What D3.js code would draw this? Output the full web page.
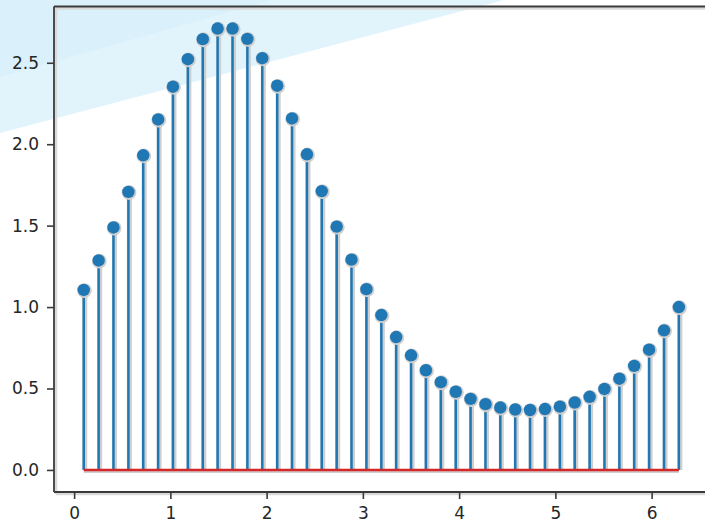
<!DOCTYPE html>
<html>
<head>
<meta charset="utf-8">
<script src="https://cdn.jsdelivr.net/npm/d3@7"></script>
<style>
  html, body { margin: 0; padding: 0; background: #fff; overflow: hidden; }
  svg { display: block; }
</style>
</head>
<body>
<div id="plot"></div>
<script>
// chart size
var width = 705;
var height = 524;

// data
var xValues = [0.100, 0.255, 0.409, 0.564, 0.718, 0.873, 1.027, 1.182, 1.337, 1.491,
               1.646, 1.800, 1.955, 2.110, 2.264, 2.419, 2.573, 2.728, 2.882, 3.037,
               3.192, 3.346, 3.501, 3.655, 3.810, 3.965, 4.119, 4.274, 4.428, 4.583,
               4.737, 4.892, 5.047, 5.201, 5.356, 5.510, 5.665, 5.819, 5.974, 6.129,
               6.283];
var yValues = [1.105, 1.286, 1.489, 1.707, 1.932, 2.152, 2.353, 2.522, 2.645, 2.710,
               2.710, 2.647, 2.528, 2.359, 2.158, 1.938, 1.712, 1.494, 1.291, 1.110,
               0.951, 0.816, 0.704, 0.612, 0.539, 0.480, 0.436, 0.404, 0.383, 0.371,
               0.368, 0.374, 0.389, 0.414, 0.449, 0.497, 0.560, 0.639, 0.738, 0.857,
               1.000];
var xTicks = [0, 1, 2, 3, 4, 5, 6];
var yTicks = [0.0, 0.5, 1.0, 1.5, 2.0, 2.5];

var points = xValues.map(function(d, i) { return {x: d, y: yValues[i]}; });

// axes box (right edge falls just outside the window)
var box = {left: 54, right: 708.6, top: 6.5, bottom: 492};

var xScale = d3.scaleLinear().domain([-0.209, 6.592]).range([box.left, box.right]);
var yScale = d3.scaleLinear().domain([-0.1355, 2.8455]).range([box.bottom, box.top]);

var shadow = "#cfcfcf";
var blue = "#1f77b4";
var red = "#d62728";
var dx = 2, dy = 2;

var svg = d3.select("#plot")
            .append("svg")
            .attr("width", width)
            .attr("height", height)
            .style("font-family", "DejaVu Sans, sans-serif");

// light blue wedges in the top left corner
svg.append("polygon")
   .attr("points", "0,0 504,0 0,133")
   .attr("fill", "#e1f4fc");
svg.append("polygon")
   .attr("points", "0,0 272,0 0,77")
   .attr("fill", "#daf1fb");

// stems: shadow then line
var stems = svg.append("g");
stems.selectAll("line.sh")
   .data(points)
   .enter()
   .append("line")
   .attr("class", "sh")
   .attr("x1", function(d) { return xScale(d.x) + 1; })
   .attr("x2", function(d) { return xScale(d.x) + 1; })
   .attr("y1", yScale(0))
   .attr("y2", function(d) { return yScale(d.y); })
   .attr("stroke", shadow)
   .attr("stroke-width", 5);
stems.selectAll("line.st")
   .data(points)
   .enter()
   .append("line")
   .attr("class", "st")
   .attr("x1", function(d) { return xScale(d.x); })
   .attr("x2", function(d) { return xScale(d.x); })
   .attr("y1", yScale(0))
   .attr("y2", function(d) { return yScale(d.y); })
   .attr("stroke", blue)
   .attr("stroke-width", 2.5);

// baseline
svg.append("line")
   .attr("x1", xScale(xValues[0]))
   .attr("x2", xScale(xValues[xValues.length - 1]))
   .attr("y1", yScale(0) + 1)
   .attr("y2", yScale(0) + 1)
   .attr("stroke", shadow)
   .attr("stroke-width", 4);
svg.append("line")
   .attr("x1", xScale(xValues[0]))
   .attr("x2", xScale(xValues[xValues.length - 1]))
   .attr("y1", yScale(0))
   .attr("y2", yScale(0))
   .attr("stroke", red)
   .attr("stroke-width", 2.5);

// markers
svg.selectAll("circle.sh")
   .data(points)
   .enter()
   .append("circle")
   .attr("class", "sh")
   .attr("cx", function(d) { return xScale(d.x) + 0.6; })
   .attr("cy", function(d) { return yScale(d.y) + 0.6; })
   .attr("r", 7.4)
   .attr("fill", shadow);
svg.selectAll("circle.mk")
   .data(points)
   .enter()
   .append("circle")
   .attr("class", "mk")
   .attr("cx", function(d) { return xScale(d.x); })
   .attr("cy", function(d) { return yScale(d.y); })
   .attr("r", 6.2)
   .attr("fill", blue);

// spines with shadow
function spine(x1, y1, x2, y2) {
  svg.append("line")
     .attr("x1", x1 + dx).attr("y1", y1 + dy)
     .attr("x2", x2 + dx).attr("y2", y2 + dy)
     .attr("stroke", "#d9d9d9")
     .attr("stroke-width", 2.5);
  svg.append("line")
     .attr("x1", x1).attr("y1", y1)
     .attr("x2", x2).attr("y2", y2)
     .attr("stroke", "#3a3a3a")
     .attr("stroke-width", 1.8);
}
spine(box.left, box.top, box.right, box.top);
spine(box.left, box.top, box.left, box.bottom);
spine(box.left, box.bottom, box.right, box.bottom);

// axes
var xAxis = d3.axisBottom(xScale).tickValues(xTicks).tickFormat(d3.format("d")).tickSize(7).tickPadding(8);
var yAxis = d3.axisLeft(yScale).tickValues(yTicks).tickFormat(d3.format(".1f")).tickSize(7).tickPadding(8);

var gx = svg.append("g")
   .attr("transform", "translate(0," + box.bottom + ")")
   .call(xAxis);
var gy = svg.append("g")
   .attr("transform", "translate(" + box.left + ",0)")
   .call(yAxis);

[gx, gy].forEach(function(g) {
  g.select(".domain").remove();
  g.selectAll(".tick line").attr("stroke", "#3a3a3a").attr("stroke-width", 1.6);
  g.selectAll(".tick text")
   .attr("fill", "#262626")
   .attr("font-size", 17)
   .attr("font-family", "DejaVu Sans, sans-serif");
});
</script>
</body>
</html>
